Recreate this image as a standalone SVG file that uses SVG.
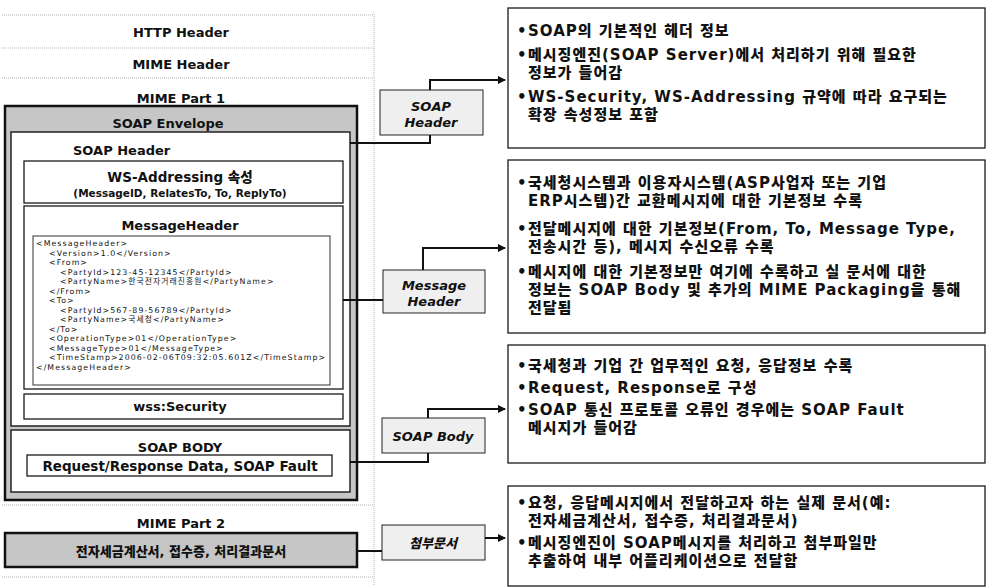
<svg xmlns="http://www.w3.org/2000/svg" width="994" height="588" viewBox="0 0 994 588">
<style>
.t{font-family:"DejaVu Sans","Noto Sans CJK KR",sans-serif;font-weight:900;fill:#111}
.h{font-size:13px;text-anchor:middle}
.x{font-family:"DejaVu Sans","Noto Sans CJK KR",sans-serif;font-size:7.8px;fill:#111;letter-spacing:1.1px}
.r{font-size:15px;letter-spacing:1px}
.lab{font-family:"DejaVu Sans","Noto Sans CJK KR",sans-serif;font-weight:900;font-style:italic;font-size:13px;text-anchor:middle;fill:#111}
.dot{stroke:#b5b5b5;stroke-width:1;stroke-dasharray:1 1;fill:none}
.box{fill:#fff;stroke:#1a1a1a;stroke-width:1.3}
.lb{fill:#efefef;stroke:#222;stroke-width:1}
.con{fill:none;stroke:#111;stroke-width:2}
</style>
<defs>
<marker id="ah" viewBox="0 0 8 8" refX="7" refY="4" markerWidth="8" markerHeight="8" markerUnits="userSpaceOnUse" orient="auto">
<path d="M0,0 L8,4 L0,8 Z" fill="#111"/>
</marker>
</defs>
<rect width="994" height="588" fill="#fff"/>

<g id="frame">
<line class="dot" x1="2" y1="15" x2="374" y2="15"/>
<line class="dot" x1="2" y1="48" x2="374" y2="48"/>
<line class="dot" x1="2" y1="78" x2="374" y2="78"/>
<line class="dot" x1="2" y1="505" x2="374" y2="505"/>
<line class="dot" x1="2" y1="577" x2="374" y2="577"/>
<line class="dot" x1="374" y1="12" x2="374" y2="585"/>
</g>

<g id="http-header"><text class="t h" x="181" y="37">HTTP Header</text></g>
<g id="mime-header"><text class="t h" x="181" y="69">MIME Header</text></g>

<g id="mime-part1">
<text class="t h" x="181" y="103">MIME Part 1</text>
<rect x="5" y="106" width="352" height="394" fill="#c6c6c6" stroke="#111" stroke-width="2.5"/>
<rect x="11" y="132" width="339" height="294" fill="#fff" stroke="#222" stroke-width="1.5"/>
<rect x="11" y="430" width="339" height="62" fill="#fff" stroke="#222" stroke-width="1.5"/>
</g>
<g id="soap-envelope"><text class="t h" x="168" y="128">SOAP Envelope</text></g>
<g id="soap-header"><text class="t" font-size="13" x="73" y="155">SOAP Header</text></g>

<g id="ws-addressing">
<rect class="box" x="24" y="161" width="319" height="42"/>
<text class="t" font-size="13.5" text-anchor="middle" x="180" y="182">WS-Addressing 속성</text>
<text class="t" font-size="10.5" text-anchor="middle" x="180" y="197">(MessageID, RelatesTo, To, ReplyTo)</text>
</g>

<g id="message-header">
<rect class="box" x="24" y="206" width="319" height="183"/>
<text class="t h" x="180" y="230">MessageHeader</text>
<rect x="33" y="236" width="297" height="149" fill="#fff" stroke="#333" stroke-width="1"/>
<text class="x" x="36" y="246">&lt;MessageHeader&gt;</text>
<text class="x" x="49" y="255.5">&lt;Version&gt;1.0&lt;/Version&gt;</text>
<text class="x" x="49" y="265">&lt;From&gt;</text>
<text class="x" x="60" y="274.5">&lt;PartyId&gt;123-45-12345&lt;/PartyId&gt;</text>
<text class="x" x="60" y="284">&lt;PartyName&gt;한국전자거래진흥원&lt;/PartyName&gt;</text>
<text class="x" x="49" y="293.5">&lt;/From&gt;</text>
<text class="x" x="49" y="303">&lt;To&gt;</text>
<text class="x" x="60" y="312.5">&lt;PartyId&gt;567-89-56789&lt;/PartyId&gt;</text>
<text class="x" x="60" y="322">&lt;PartyName&gt;국세청&lt;/PartyName&gt;</text>
<text class="x" x="49" y="331.5">&lt;/To&gt;</text>
<text class="x" x="49" y="341">&lt;OperationType&gt;01&lt;/OperationType&gt;</text>
<text class="x" x="49" y="350.5">&lt;MessageType&gt;01&lt;/MessageType&gt;</text>
<text class="x" x="49" y="360">&lt;TimeStamp&gt;2006-02-06T09:32:05.601Z&lt;/TimeStamp&gt;</text>
<text class="x" x="36" y="369.5">&lt;/MessageHeader&gt;</text>
</g>

<g id="wss-security">
<rect class="box" x="24" y="394" width="319" height="25"/>
<text class="t h" x="180" y="411">wss:Security</text>
</g>

<g id="soap-body">
<text class="t h" x="180" y="452">SOAP BODY</text>
<rect class="box" x="27" y="455" width="305" height="21"/>
<text class="t" font-size="13.5" text-anchor="middle" x="180" y="471">Request/Response Data, SOAP Fault</text>
</g>

<g id="mime-part2">
<text class="t h" x="181" y="528">MIME Part 2</text>
<rect x="5" y="533" width="352" height="34" fill="#c6c6c6" stroke="#111" stroke-width="2.5"/>
<text class="t" font-size="13" text-anchor="middle" x="181" y="556">전자세금계산서, 접수증, 처리결과문서</text>
</g>

<g id="label-soap-header">
<rect class="lb" x="380" y="90" width="103" height="45"/>
<text class="lab" x="431" y="111">SOAP</text>
<text class="lab" x="431" y="127">Header</text>
</g>
<g id="label-message-header">
<rect class="lb" x="383" y="270" width="102" height="43"/>
<text class="lab" x="434" y="290">Message</text>
<text class="lab" x="434" y="306">Header</text>
</g>
<g id="label-soap-body">
<rect class="lb" x="382" y="418" width="103" height="35" fill="#dcdcdc"/>
<text class="lab" x="433" y="441">SOAP Body</text>
</g>
<g id="label-attach">
<rect class="lb" x="382" y="525" width="103" height="35"/>
<text class="lab" x="433" y="548">첨부문서</text>
</g>

<g id="connectors">
<path class="con" d="M350,143 H430 V135"/>
<path class="con" d="M430,90 V80 H505" marker-end="url(#ah)"/>
<path class="con" d="M343,300 H383"/>
<path class="con" d="M423,270 V248 H505" marker-end="url(#ah)"/>
<path class="con" d="M350,462 H428 V453"/>
<path class="con" d="M428,418 V409 H505" marker-end="url(#ah)"/>
<path class="con" d="M357,551 H382"/>
<path class="con" d="M485,538 H505" marker-end="url(#ah)"/>
</g>

<g id="desc-soap-header">
<rect class="box" x="508" y="8" width="477" height="140"/>
<text class="t r" x="517" y="36">•</text><text class="t r" x="528" y="36">SOAP의 기본적인 헤더 정보</text>
<text class="t r" x="517" y="60">•</text><text class="t r" x="528" y="60">메시징엔진(SOAP Server)에서 처리하기 위해 필요한</text>
<text class="t r" x="528" y="78">정보가 들어감</text>
<text class="t r" x="517" y="102">•</text><text class="t r" x="528" y="102">WS-Security, WS-Addressing 규약에 따라 요구되는</text>
<text class="t r" x="528" y="120">확장 속성정보 포함</text>
</g>

<g id="desc-message-header">
<rect class="box" x="508" y="160" width="477" height="173"/>
<text class="t r" x="517" y="188">•</text><text class="t r" x="528" y="188">국세청시스템과 이용자시스템(ASP사업자 또는 기업</text>
<text class="t r" x="528" y="206">ERP시스템)간 교환메시지에 대한 기본정보 수록</text>
<text class="t r" x="517" y="234">•</text><text class="t r" x="528" y="234">전달메시지에 대한 기본정보(From, To, Message Type,</text>
<text class="t r" x="528" y="252">전송시간 등), 메시지 수신오류 수록</text>
<text class="t r" x="517" y="277">•</text><text class="t r" x="528" y="277">메시지에 대한 기본정보만 여기에 수록하고 실 문서에 대한</text>
<text class="t r" x="528" y="295">정보는 SOAP Body 및 추가의 MIME Packaging을 통해</text>
<text class="t r" x="528" y="313">전달됨</text>
</g>

<g id="desc-soap-body">
<rect class="box" x="508" y="345" width="477" height="118"/>
<text class="t r" x="517" y="371">•</text><text class="t r" x="528" y="371">국세청과 기업 간 업무적인 요청, 응답정보 수록</text>
<text class="t r" x="517" y="393">•</text><text class="t r" x="528" y="393">Request, Response로 구성</text>
<text class="t r" x="517" y="415">•</text><text class="t r" x="528" y="415">SOAP 통신 프로토콜 오류인 경우에는 SOAP Fault</text>
<text class="t r" x="528" y="433">메시지가 들어감</text>
</g>

<g id="desc-attach">
<rect class="box" x="508" y="486" width="477" height="100"/>
<text class="t r" x="517" y="508">•</text><text class="t r" x="528" y="508">요청, 응답메시지에서 전달하고자 하는 실제 문서(예:</text>
<text class="t r" x="528" y="526">전자세금계산서, 접수증, 처리결과문서)</text>
<text class="t r" x="517" y="548">•</text><text class="t r" x="528" y="548">메시징엔진이 SOAP메시지를 처리하고 첨부파일만</text>
<text class="t r" x="528" y="566">추출하여 내부 어플리케이션으로 전달함</text>
</g>
</svg>
